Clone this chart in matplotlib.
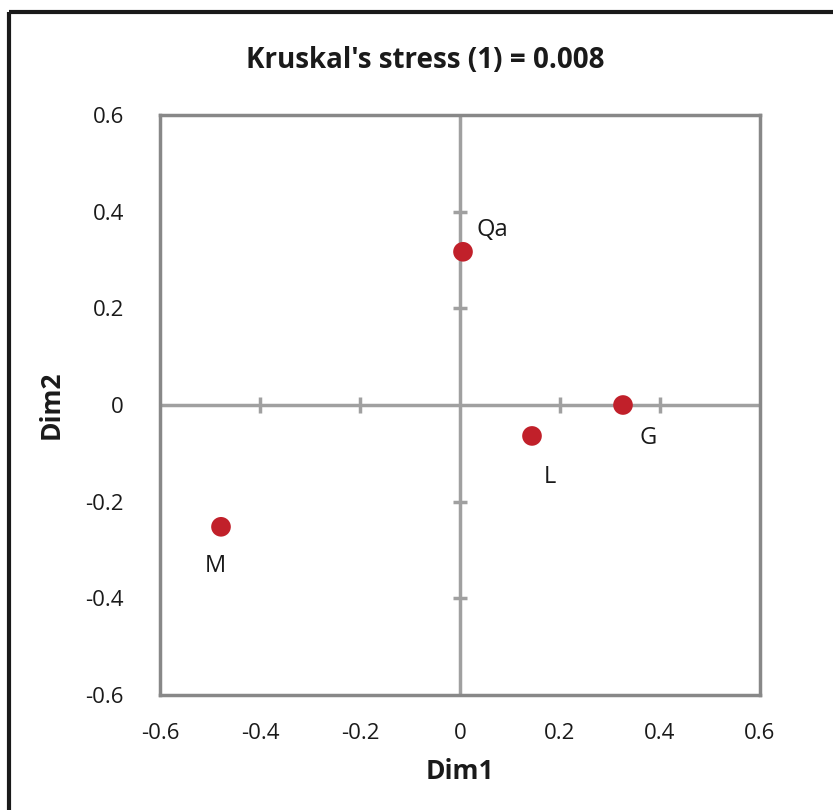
import numpy as np
import matplotlib.pyplot as plt
from matplotlib.patches import Rectangle

plt.rcParams['font.family'] = ['Open Sans', 'DejaVu Sans']

# MDS coordinates
labels = ['Qa', 'L', 'G', 'M']
dim1 = [0.006, 0.144, 0.326, -0.478]
dim2 = [0.317, -0.064, 0.0, -0.252]
# label placement (offset in pixels, horizontal alignment)
offsets = [(14, 22), (18, -41), (25, -33), (-6, -39)]
aligns = ['left', 'center', 'center', 'center']

ticks = [-0.6, -0.4, -0.2, 0, 0.2, 0.4, 0.6]
tick_labels = ['-0.6', '-0.4', '-0.2', '0', '0.2', '0.4', '0.6']

gray = '#a0a0a0'
ink = '#1a1a1a'

fig = plt.figure(figsize=(8.33, 8.10), dpi=100)
ax = fig.add_axes([160 / 833, 1 - 695 / 810, 600 / 833, 580 / 810])

# outer chart frame
fig.patches.append(Rectangle((9 / 833, 1 - 12 / 810), 2, -2, transform=fig.transFigure,
                             fill=False, edgecolor=ink, linewidth=3))

ax.set_xlim(-0.6, 0.6)
ax.set_ylim(-0.6, 0.6)
for s in ax.spines.values():
    s.set_color('#888888')
    s.set_linewidth(2.5)

# zero axes with cross ticks
ax.axhline(0, color=gray, lw=2.5, zorder=1)
ax.axvline(0, color=gray, lw=2.5, zorder=1)
for t in ticks[1:-1]:
    if t == 0:
        continue
    ax.plot([t, t], [-0.017, 0.017], color=gray, lw=2.5, zorder=1, solid_capstyle='butt')
    ax.plot([-0.014, 0.014], [t, t], color=gray, lw=2.5, zorder=1, solid_capstyle='butt')

ax.scatter(dim1, dim2, s=200, color='#c1202a', zorder=3, edgecolors='none')
for lab, x, y, off, ha in zip(labels, dim1, dim2, offsets, aligns):
    ax.annotate(lab, (x, y), xytext=off, textcoords='offset pixels',
                fontsize=17, color=ink, va='center', ha=ha)

ax.set_xticks(ticks)
ax.set_xticklabels(tick_labels)
ax.set_yticks(ticks)
ax.set_yticklabels(tick_labels)
ax.tick_params(length=0, labelsize=16, labelcolor=ink)
ax.tick_params(axis='x', pad=20)
ax.tick_params(axis='y', pad=26)

ax.set_xlabel('Dim1', fontsize=19, fontweight='bold', color=ink, labelpad=10)
ax.set_ylabel('Dim2', fontsize=19, fontweight='bold', color=ink, labelpad=15)
ax.set_title("Kruskal's stress (1) = 0.008", fontsize=20, fontweight='bold',
             color=ink, pad=34, x=(425 - 160) / 600)

fig.savefig('out.png', dpi=100)
